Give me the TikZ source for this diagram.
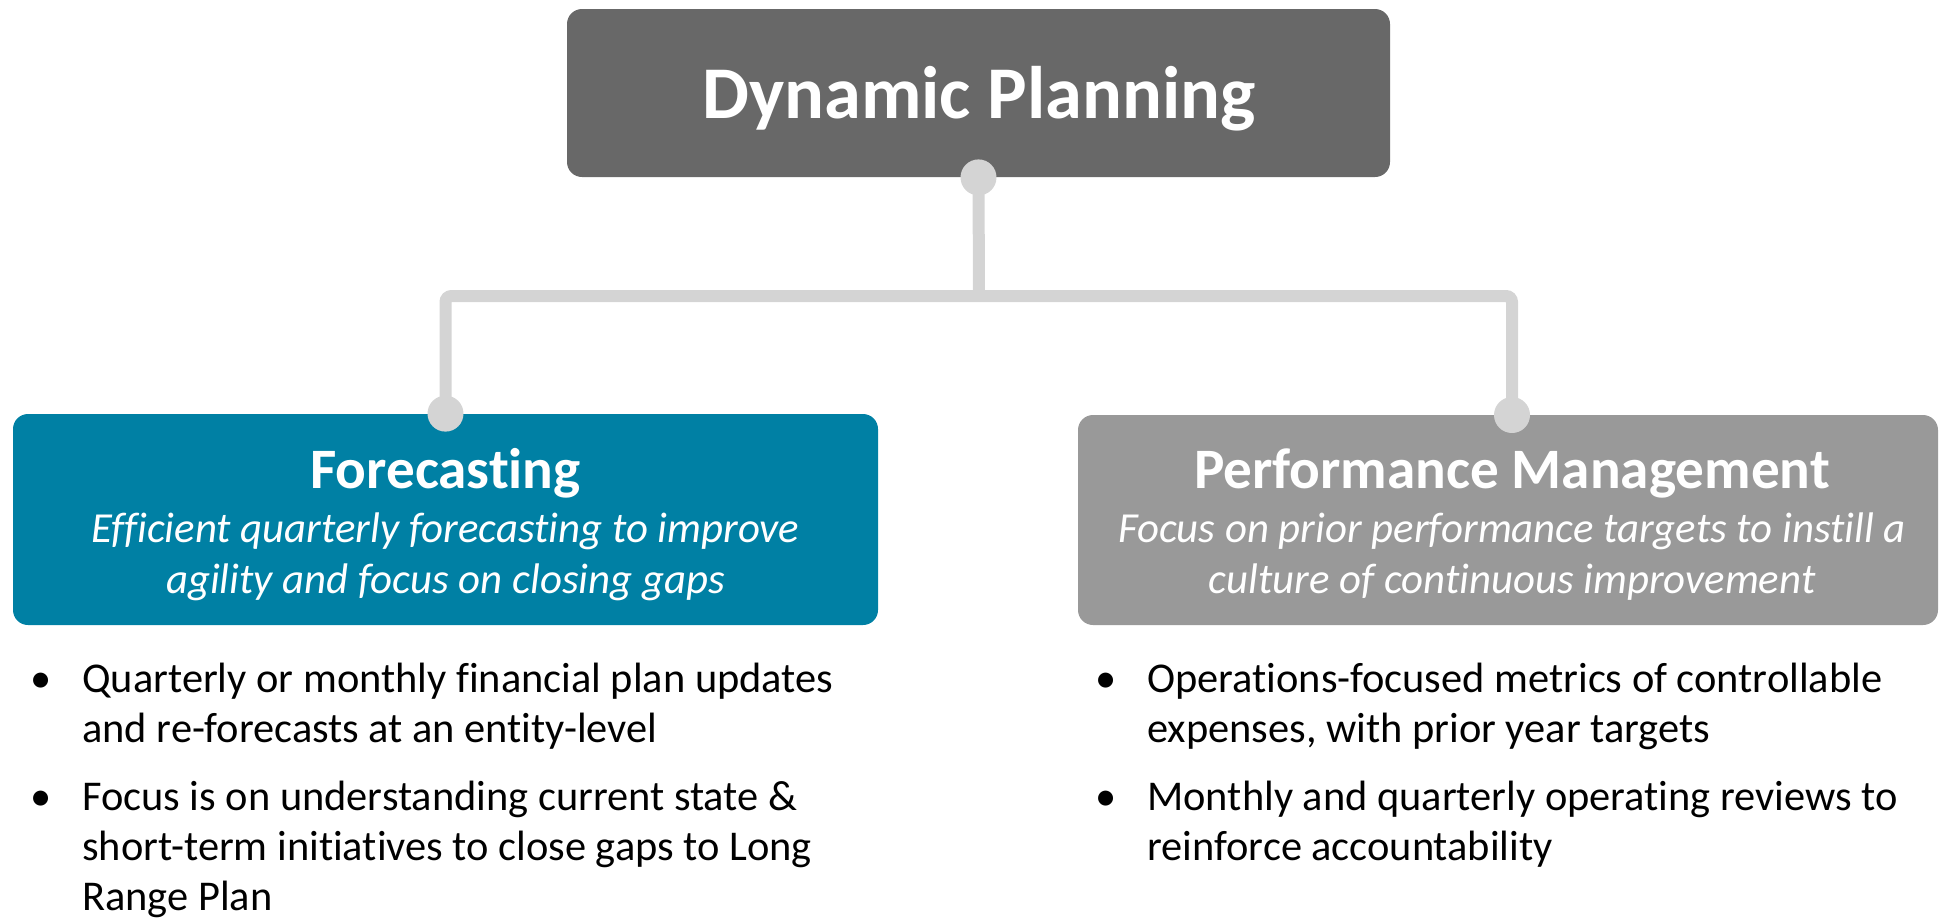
\documentclass[tikz,border=0pt]{standalone}
\usepackage{fontspec}
\setmainfont{Carlito}[Ligatures=NoCommon]
\usetikzlibrary{positioning}

\definecolor{dpgray}{HTML}{686868}
\definecolor{fcteal}{HTML}{0080A4}
\definecolor{pmgray}{HTML}{999999}
\definecolor{linkgray}{HTML}{D4D4D4}

\tikzset{
    card/.style={rectangle, rounded corners=7.5pt, inner sep=0pt},
    bigtitle/.style={anchor=base, text=white, inner sep=0pt, font=\bfseries\fontsize{37.2}{44}\selectfont},
    heading/.style={anchor=base, text=white, inner sep=0pt, font=\bfseries\fontsize{28.6}{34}\selectfont},
    tagline/.style={anchor=base, text=white, inner sep=0pt, font=\itshape\fontsize{21.4}{25.5}\selectfont},
    bullets/.style={anchor=base west, inner sep=0pt, font=\fontsize{21.2}{25}\selectfont},
    link/.style={draw=linkgray, line width=6pt, rounded corners=3pt},
    knob/.style={circle, fill=linkgray, minimum size=18pt, inner sep=0pt},
}

\begin{document}
\begin{tikzpicture}[x=0.5pt, y=-0.5pt]
    \useasboundingbox (0,0) rectangle (1939,918);

    % boxes
    \node[card, fill=dpgray, minimum width=411.5pt, minimum height=84pt] (dp) at (978.5,93) {};
    \node[card, fill=fcteal, minimum width=432.5pt, minimum height=105.5pt] (fc) at (445.5,519.5) {};
    \node[card, fill=pmgray, minimum width=430pt, minimum height=105pt] (pm) at (1508,520) {};

    % tree lines
    \coordinate (hub) at (979,296);
    \coordinate (pmtop) at (1512,415);
    \draw[link] (dp.south) -- (hub);
    \draw[link] (fc.north) |- (hub) -| (pmtop);

    \node[knob] (dpknob) at (dp.south) {};
    \node[knob] (fcknob) at (fc.north) {};
    \node[knob] (pmknob) at (pmtop) {};

    % box texts
    \node[bigtitle] (dptitle) at (979,118) {Dynamic Planning};

    \node[heading] (fchead) at (445.5,488) {Forecasting};
    \node[tagline] (fctag) at (445.5,542) {\begin{tabular}[t]{@{}c@{}}
        Efficient quarterly forecasting to improve\\
        agility and focus on closing gaps
    \end{tabular}};

    \node[heading] (pmhead) at (1512,488) {Performance Management};
    \node[tagline] (pmtag) at (1512,542) {\begin{tabular}[t]{@{}c@{}}
        Focus on prior performance targets to instill a\\
        culture of continuous improvement
    \end{tabular}};

    % bullet lists
    \node[bullets] (fclist) at (30,692) {\begin{tabular}[t]{@{}p{26pt}@{}l@{}}
        \textbullet & Quarterly or monthly financial plan updates\\
                    & and re-forecasts at an entity-level\\[9pt]
        \textbullet & Focus is on understanding current state \&\\
                    & short-term initiatives to close gaps to Long\\
                    & Range Plan
    \end{tabular}};

    \node[bullets] (pmlist) at (1095,692) {\begin{tabular}[t]{@{}p{26pt}@{}l@{}}
        \textbullet & Operations-focused metrics of controllable\\
                    & expenses, with prior year targets\\[9pt]
        \textbullet & Monthly and quarterly operating reviews to\\
                    & reinforce accountability
    \end{tabular}};
\end{tikzpicture}
\end{document}
